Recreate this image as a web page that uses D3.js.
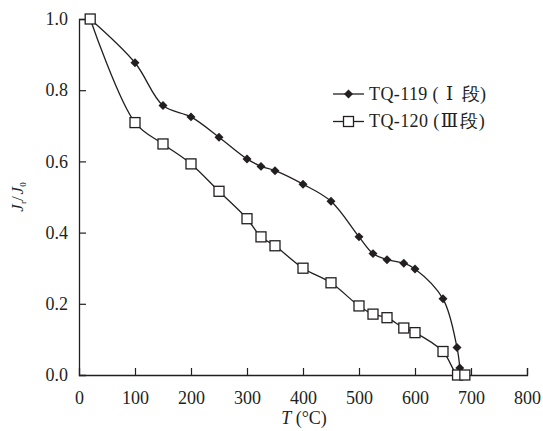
<!DOCTYPE html>
<html>
<head>
<meta charset="utf-8">
<script src="https://cdn.jsdelivr.net/npm/d3@7"></script>
<style>
  body { margin: 0; background: #fff; }
  svg text { font-family: "Liberation Serif", Tinos, "Times New Roman", Times, "DejaVu Serif", serif; fill: #231f20; }
</style>
</head>
<body>
<div id="container"></div>
<script>
// chart data
var temps119 = [20, 100, 150, 200, 250, 300, 325, 350, 400, 450, 500, 525, 550, 580, 600, 650, 675, 680];
var vals119  = [1.0, 0.877, 0.757, 0.725, 0.668, 0.607, 0.586, 0.574, 0.536, 0.488, 0.388, 0.341, 0.324, 0.314, 0.298, 0.214, 0.077, 0.02];

var temps120 = [20, 100, 150, 200, 250, 300, 325, 350, 400, 450, 500, 525, 550, 580, 600, 650, 676, 689];
var vals120  = [1.0, 0.709, 0.649, 0.593, 0.516, 0.439, 0.388, 0.363, 0.300, 0.259, 0.194, 0.171, 0.161, 0.132, 0.119, 0.066, 0.0, 0.0];

var xTicks = [0, 100, 200, 300, 400, 500, 600, 700, 800];
var yTicks = [0, 0.2, 0.4, 0.6, 0.8, 1.0];
// legend labels split so the roman numeral can be spaced like the original
var seriesNames = [["TQ-119 (", "\u2160", "段)"], ["TQ-120 (", "\u2162", "段)"]];

var w = 543, h = 431;
var margin = {left: 79, right: 16, top: 19, bottom: 56};

var svg = d3.select("div#container")
  .append("svg")
  .attr("width", w)
  .attr("height", h);

var x = d3.scaleLinear().domain([0, 800]).range([margin.left, w - margin.right]);
var y = d3.scaleLinear().domain([0, 1.0]).range([h - margin.bottom, margin.top]);

var ink = "#231f20";

// axes, ticks point inward
var xAxis = svg.append("g")
  .attr("transform", "translate(0," + y(0) + ")")
  .call(d3.axisBottom(x).tickValues(xTicks).tickSize(-7).tickPadding(16).tickFormat(d3.format("d")));

var yAxis = svg.append("g")
  .attr("transform", "translate(" + x(0) + ",0)")
  .call(d3.axisLeft(y).tickValues(yTicks).tickSize(-7).tickPadding(11).tickFormat(d3.format(".1f")));

[xAxis, yAxis].forEach(function(a) {
  a.attr("font-family", null);
  a.select(".domain").attr("stroke", ink).attr("stroke-width", 1.3);
  a.selectAll(".tick line").attr("stroke", ink).attr("stroke-width", 1.2);
  a.selectAll(".tick text").attr("font-size", 18).attr("fill", ink);
});
// drop the zero ticks that sit on the other axis
xAxis.selectAll(".tick").filter(function(d) { return d === 0; }).select("line").remove();
yAxis.selectAll(".tick").filter(function(d) { return d === 0; }).select("line").remove();

// lines
var line = d3.line()
  .x(function(d) { return x(d[0]); })
  .y(function(d) { return y(d[1]); })
  .curve(d3.curveCatmullRom.alpha(0.5));

var data119 = temps119.map(function(t, i) { return [t, vals119[i]]; });
var data120 = temps120.map(function(t, i) { return [t, vals120[i]]; });

svg.append("path").datum(data119)
  .attr("d", line).attr("fill", "none").attr("stroke", ink).attr("stroke-width", 1.3);
svg.append("path").datum(data120)
  .attr("d", line).attr("fill", "none").attr("stroke", ink).attr("stroke-width", 1.3);

function drawDiamond(g, cx, cy) {
  g.append("path")
    .attr("d", d3.symbol().type(d3.symbolSquare).size(40)())
    .attr("transform", "translate(" + cx + "," + cy + ") rotate(45)")
    .attr("fill", ink);
}
function drawSquare(g, cx, cy) {
  g.append("rect")
    .attr("x", cx - 5).attr("y", cy - 5)
    .attr("width", 10).attr("height", 10)
    .attr("fill", "#fff").attr("stroke", ink).attr("stroke-width", 1.3);
}

var marks = svg.append("g");
data119.forEach(function(d) { drawDiamond(marks, x(d[0]), y(d[1])); });
data120.forEach(function(d) { drawSquare(marks, x(d[0]), y(d[1])); });

// legend
var legend = svg.append("g");
[0, 1].forEach(function(i) {
  var ly = 94 + i * 27.5;
  legend.append("line")
    .attr("x1", 333).attr("x2", 364).attr("y1", ly).attr("y2", ly)
    .attr("stroke", ink).attr("stroke-width", 1.3);
  if (i === 0) drawDiamond(legend, 348.5, ly);
  else drawSquare(legend, 348.5, ly);
  var t = legend.append("text")
    .attr("x", 369).attr("y", ly + 5.5)
    .attr("font-size", 18)
    .attr("letter-spacing", 0.4);
  t.append("tspan").text(seriesNames[i][0]);
  t.append("tspan").attr("dx", i === 0 ? 7 : 1).text(seriesNames[i][1]);
  t.append("tspan").attr("dx", i === 0 ? 8 : 2).text(seriesNames[i][2]);
});

// axis titles
var xt = svg.append("text")
  .attr("x", 304).attr("y", 424)
  .attr("text-anchor", "middle")
  .attr("font-size", 18);
xt.append("tspan").attr("font-style", "italic").text("T");
xt.append("tspan").text(" (\u00b0C)");

var yt = svg.append("text")
  .attr("transform", "translate(23,197) rotate(-90)")
  .attr("text-anchor", "middle")
  .attr("font-size", 17);
yt.append("tspan").attr("font-style", "italic").text("J");
yt.append("tspan").attr("font-size", 9).attr("dy", 3).text("r");
yt.append("tspan").attr("dy", -3).text("/");
yt.append("tspan").attr("font-style", "italic").attr("dx", 2).text("J");
yt.append("tspan").attr("font-size", 9).attr("dy", 3).text("0");
</script>
</body>
</html>
